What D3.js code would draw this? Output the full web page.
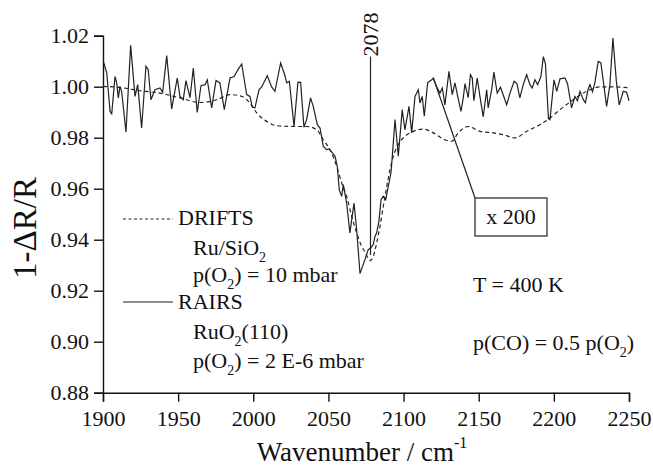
<!DOCTYPE html>
<html>
<head>
<meta charset="utf-8">
<script src="https://cdn.jsdelivr.net/npm/d3@7"></script>
</head>
<body>
<svg id="chart" width="653" height="468" font-family="Liberation Serif" style="position:absolute;left:0;top:0"></svg>
<script>
// RAIRS spectrum (solid, x 200) - [wavenumber, 1-dR/R]
const rairs = [
  [1900.2, 1.0099], [1902.5, 1.0054], [1904.7, 0.9903], [1905.8, 0.9894], [1908.0, 1.0040],
  [1909.1, 1.0015], [1910.2, 0.9956], [1911.3, 1.0001], [1912.4, 0.9982], [1915.3, 0.9822],
  [1918.4, 1.0162], [1921.3, 0.9962], [1923.1, 1.0008], [1925.7, 0.9838], [1928.6, 1.0080],
  [1930.1, 1.0067], [1931.9, 0.9949], [1934.6, 0.9988], [1937.9, 0.9995], [1939.7, 0.9978],
  [1942.4, 1.0122], [1945.7, 0.9913], [1949.4, 1.0034], [1951.2, 0.9962], [1953.4, 0.9949],
  [1955.2, 1.0024], [1957.9, 0.9957], [1960.1, 1.0073], [1962.7, 0.9899], [1965.2, 1.0004],
  [1967.9, 1.0008], [1969.4, 1.0027], [1972.3, 0.9917], [1975.2, 1.0024], [1977.8, 1.0015],
  [1980.7, 0.9910], [1984.5, 1.0034], [1987.2, 1.0040], [1990.0, 1.0069], [1992.3, 1.0089],
  [1995.6, 0.9969], [1997.8, 0.9962], [1999.3, 0.9920], [2001.1, 0.9917], [2003.8, 0.9988],
  [2005.6, 0.9999], [2009.3, 1.0043], [2012.2, 0.9999], [2014.4, 0.9982], [2018.2, 1.0093],
  [2021.1, 1.0043], [2022.2, 1.0015], [2024.0, 1.0021], [2027.1, 0.9845], [2029.7, 1.0018],
  [2031.5, 1.0017], [2033.7, 0.9841], [2035.5, 0.9871], [2038.1, 0.9956], [2039.9, 0.9923],
  [2042.6, 0.9851], [2044.4, 0.9838], [2046.6, 0.9766], [2048.8, 0.9753], [2050.6, 0.9756],
  [2052.8, 0.9740], [2054.4, 0.9727], [2055.9, 0.9688], [2057.2, 0.9596], [2058.8, 0.9570],
  [2059.9, 0.9616], [2062.1, 0.9544], [2064.3, 0.9427], [2065.5, 0.9479], [2067.0, 0.9544],
  [2068.8, 0.9439], [2071.0, 0.9267], [2074.3, 0.9322], [2076.5, 0.9361], [2078.3, 0.9368],
  [2079.8, 0.9381], [2081.0, 0.9413], [2082.1, 0.9427], [2083.6, 0.9472], [2085.0, 0.9557],
  [2086.5, 0.9570], [2088.1, 0.9557], [2089.8, 0.9609], [2091.6, 0.9662], [2092.5, 0.9727],
  [2094.3, 0.9871], [2096.5, 0.9727], [2099.1, 0.9910], [2100.9, 0.9831], [2103.6, 0.9923],
  [2105.4, 0.9819], [2107.6, 0.9962], [2109.8, 0.9988], [2110.9, 0.9936], [2112.4, 0.9962],
  [2113.8, 0.9884], [2116.0, 1.0015], [2118.7, 1.0027], [2119.8, 1.0034], [2122.0, 1.0000],
  [2124.2, 0.9975], [2125.8, 0.9995], [2127.5, 0.9929], [2130.2, 1.0060], [2132.4, 0.9969],
  [2134.2, 1.0015], [2136.0, 0.9962], [2138.2, 0.9903], [2139.7, 0.9956], [2140.9, 1.0012],
  [2143.0, 0.9957], [2144.5, 1.0047], [2145.7, 1.0034], [2146.8, 0.9945], [2149.0, 1.0034],
  [2150.8, 0.9962], [2153.0, 0.9882], [2155.3, 0.9988], [2156.3, 0.9917], [2158.6, 0.9988],
  [2160.1, 1.0057], [2162.3, 0.9975], [2164.5, 0.9998], [2168.6, 0.9929], [2170.8, 0.9975],
  [2173.6, 1.0021], [2175.4, 1.0012], [2177.4, 0.9956], [2179.6, 1.0008], [2181.9, 1.0047],
  [2184.1, 1.0008], [2185.6, 0.9995], [2187.4, 1.0027], [2189.2, 1.0008], [2191.4, 1.0040],
  [2193.0, 1.0118], [2194.4, 1.0090], [2196.4, 0.9875], [2197.4, 0.9871], [2200.1, 1.0027],
  [2201.9, 0.9982], [2204.1, 1.0031], [2207.4, 1.0034], [2209.1, 1.0012], [2211.8, 0.9917],
  [2214.0, 0.9962], [2215.7, 0.9945], [2217.4, 0.9982], [2219.6, 0.9949], [2221.0, 0.9937],
  [2222.7, 0.9988], [2224.0, 1.0008], [2225.7, 0.9980], [2227.3, 1.0016], [2229.5, 1.0099],
  [2231.3, 1.0093], [2235.1, 0.9923], [2237.3, 1.0008], [2239.3, 1.0191], [2241.6, 1.0020],
  [2243.5, 0.9929], [2246.2, 0.9982], [2248.4, 0.9978], [2250.0, 0.9945]
];

// DRIFTS spectrum (dashed)
const drifts = [
  [1900.0, 1.0001], [1911.3, 0.9997], [1924.6, 0.9984], [1937.9, 0.9975], [1951.2, 0.9956],
  [1964.5, 0.9938], [1975.6, 0.9949], [1984.5, 0.9969], [1992.3, 0.9962], [1997.8, 0.9936],
  [2002.3, 0.9897], [2008.9, 0.9864], [2015.6, 0.9847], [2026.6, 0.9844], [2035.5, 0.9844],
  [2042.2, 0.9831], [2046.6, 0.9792], [2051.0, 0.9753], [2055.5, 0.9688], [2058.8, 0.9623],
  [2062.1, 0.9570], [2065.5, 0.9492], [2068.8, 0.9427], [2072.1, 0.9374], [2074.3, 0.9353],
  [2077.6, 0.9318], [2079.8, 0.9334], [2082.1, 0.9387], [2084.3, 0.9452], [2086.5, 0.9531],
  [2088.8, 0.9609], [2091.0, 0.9675], [2093.2, 0.9727], [2096.5, 0.9773], [2100.9, 0.9805],
  [2106.5, 0.9825], [2113.1, 0.9834], [2119.8, 0.9819], [2127.5, 0.9792], [2132.0, 0.9786],
  [2136.4, 0.9819], [2143.0, 0.9844], [2150.8, 0.9825], [2159.7, 0.9819], [2166.3, 0.9812],
  [2174.1, 0.9799], [2181.9, 0.9825], [2190.7, 0.9851], [2197.4, 0.9877], [2204.1, 0.9910],
  [2212.9, 0.9949], [2221.8, 0.9982], [2230.7, 0.9999], [2239.5, 0.9999], [2250.0, 0.9996]
];

const xTicks = [1900, 1950, 2000, 2050, 2100, 2150, 2200, 2250];
const yTicks = [0.88, 0.90, 0.92, 0.94, 0.96, 0.98, 1.00, 1.02];

// annotations
const peakMark = { wavenumber: 2078, top: 1.0118, bottom: 0.934, label: "2078" };
const scaleAnchor = [2119.8, 1.0034];

const FONT = "Liberation Serif";
const INK = "#111";

const svg = d3.select("#chart");

const x = d3.scaleLinear().domain([1900, 2250]).range([103, 629]);
const y = d3.scaleLinear().domain([0.88, 1.02]).range([392.7, 35.7]);

const xAxis = svg.append("g")
  .attr("transform", `translate(0,${y(0.88)})`)
  .call(d3.axisBottom(x).tickValues(xTicks).tickSizeOuter(0).tickSize(9).tickPadding(9)
    .tickFormat(d3.format("d")));

const yAxis = svg.append("g")
  .attr("transform", `translate(${x(1900)},0)`)
  .call(d3.axisLeft(y).tickValues(yTicks).tickSizeOuter(0).tickSize(9).tickPadding(5)
    .tickFormat(d3.format(".2f")));

[xAxis, yAxis].forEach((g) => {
  g.attr("font-family", FONT).attr("font-size", 22);
  g.selectAll("path, line").attr("stroke", INK).attr("stroke-width", 1.4);
  g.selectAll("text").attr("font-family", FONT).attr("font-size", 22).attr("fill", INK);
});

svg.append("path")
  .datum(drifts)
  .attr("fill", "none")
  .attr("stroke", "#222")
  .attr("stroke-width", 1.2)
  .attr("stroke-dasharray", "4,3")
  .attr("d", d3.line().x((d) => x(d[0])).y((d) => y(d[1])).curve(d3.curveMonotoneX));

svg.append("path")
  .datum(rairs)
  .attr("fill", "none")
  .attr("stroke", "#222")
  .attr("stroke-width", 1.2)
  .attr("d", d3.line().x((d) => x(d[0])).y((d) => y(d[1])));

// plain text helper
function label(xPos, yPos, size) {
  return svg.append("text")
    .attr("x", xPos).attr("y", yPos)
    .attr("fill", INK)
    .attr("font-family", FONT)
    .attr("font-size", size);
}

// 2078 marker
svg.append("line")
  .attr("x1", x(peakMark.wavenumber)).attr("x2", x(peakMark.wavenumber))
  .attr("y1", y(peakMark.top)).attr("y2", y(peakMark.bottom))
  .attr("stroke", "#222").attr("stroke-width", 1.2);

label(0, 0, 22)
  .attr("transform", `translate(${x(peakMark.wavenumber) + 7},${y(peakMark.top)}) rotate(-90)`)
  .text(peakMark.label);

// x 200 box
const boxX = 475, boxY = 198, boxW = 72, boxH = 38;
svg.append("line")
  .attr("x1", x(scaleAnchor[0])).attr("y1", y(scaleAnchor[1]))
  .attr("x2", boxX).attr("y2", boxY)
  .attr("stroke", "#222").attr("stroke-width", 1.2);
svg.append("rect")
  .attr("x", boxX).attr("y", boxY).attr("width", boxW).attr("height", boxH)
  .attr("fill", "#fff").attr("stroke", "#222").attr("stroke-width", 1.2);
label(boxX + boxW / 2, boxY + 26, 22).attr("text-anchor", "middle").text("x 200");

// text line with optional subscripts
function addLine(parts, xPos, yPos) {
  const t = label(xPos, yPos, 22);
  let shift = 0;
  parts.forEach((p) => {
    if (p.sub) {
      t.append("tspan").attr("font-size", 14).attr("dy", 7 - shift).text(p.sub);
      shift = 7;
    } else {
      t.append("tspan").attr("dy", -shift).text(p.t);
      shift = 0;
    }
  });
}

svg.append("line").attr("x1", 123).attr("x2", 173).attr("y1", 219).attr("y2", 219)
  .attr("stroke", "#222").attr("stroke-width", 1.2).attr("stroke-dasharray", "3,2.5");
addLine([{ t: "DRIFTS" }], 178, 225);
addLine([{ t: "Ru/SiO" }, { sub: "2" }], 193, 255);
addLine([{ t: "p(O" }, { sub: "2" }, { t: ") = 10 mbar" }], 193, 282);

svg.append("line").attr("x1", 123).attr("x2", 173).attr("y1", 302).attr("y2", 302)
  .attr("stroke", "#222").attr("stroke-width", 1.2);
addLine([{ t: "RAIRS" }], 178, 309);
addLine([{ t: "RuO" }, { sub: "2" }, { t: "(110)" }], 193, 339);
addLine([{ t: "p(O" }, { sub: "2" }, { t: ") = 2 E-6 mbar" }], 193, 368);

addLine([{ t: "T = 400 K" }], 473, 292);
addLine([{ t: "p(CO) = 0.5 p(O" }, { sub: "2" }, { t: ")" }], 473, 350);

// axis titles
const xt = label(362, 461, 27).attr("text-anchor", "middle");
xt.append("tspan").text("Wavenumber / cm");
xt.append("tspan").attr("font-size", 16).attr("dy", -13).text("-1");

label(0, 0, 33)
  .attr("transform", "translate(36,228) rotate(-90)")
  .attr("text-anchor", "middle")
  .text("1-\u0394R/R");
</script>
</body>
</html>
